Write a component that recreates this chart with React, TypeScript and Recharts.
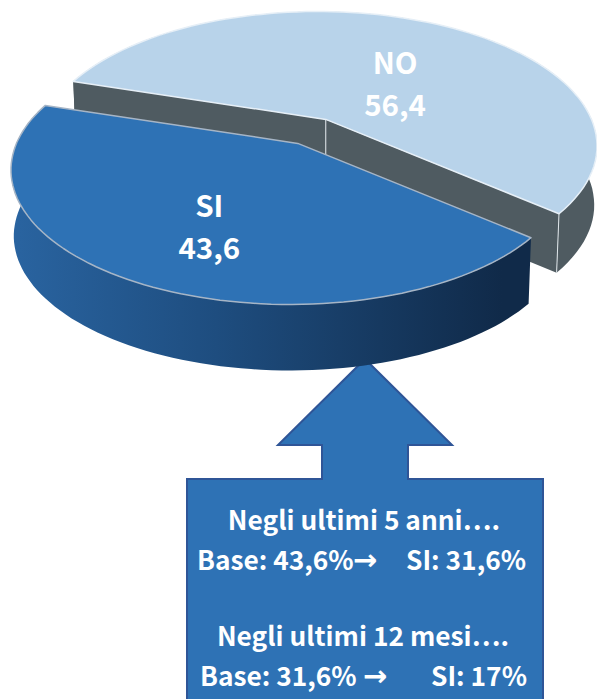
import React from 'react';
import { PieChart, Pie } from 'recharts';

const segments = ['NO', 'SI'];
const shares = [56.4, 43.6];
const boxLines = ['Negli ultimi 5 anni….', 'Base: 43,6%', 'SI:  31,6%', 'Negli ultimi 12 mesi….', 'Base: 31,6%', 'SI: 17%'];

const data = segments.map((name, i) => ({ name, value: shares[i] }));

const FONT = '"Noto Sans CJK SC", "Noto Sans", sans-serif';
const BLUE = '#2e72b5';

// flat disc seen in perspective: the pie centre sits above the middle of the ellipse
const TILT = 0.482;
const SHIFT = 0.2;
const SHIFT_DIR = (82 * Math.PI) / 180;
const NARROW = 0.99;

const project = (cx: number, cy: number, radius: number, angle: number, r = 1) => {
  const t = (angle * Math.PI) / 180 - SHIFT_DIR;
  const a = r * Math.cos(t);
  const b = r * Math.sin(t);
  const den = 1 + SHIFT * a;
  const u = (a + SHIFT) / den;
  const v = (b * Math.sqrt(1 - SHIFT * SHIFT)) / den;
  const c = Math.cos(SHIFT_DIR);
  const s = Math.sin(SHIFT_DIR);
  return [cx + radius * (u * c - v * s), cy - radius * TILT * (u * s + v * c)];
};

const toPath = (pts: number[][]) => 'M' + pts.map((p) => `${p[0].toFixed(1)},${p[1].toFixed(1)}`).join('L') + 'Z';

const PieSlice = (props: any) => {
  const { cx, cy, outerRadius, startAngle, endAngle, name } = props;
  const isNo = name === 'NO';
  const dx = isNo ? 0 : -28;
  const dy = isNo ? 0 : 24;
  const depth = isNo ? 59 : 66;
  const lower = (p: number[]) => [cx + (p[0] - cx) * NARROW, p[1] + depth];
  const arc: number[][] = [];
  const steps = 90;
  for (let i = 0; i <= steps; i++) {
    arc.push(project(cx, cy, outerRadius, startAngle + ((endAngle - startAngle) * i) / steps));
  }
  const apex = project(cx, cy, outerRadius, 0, 0);
  const first = arc[0];
  const last = arc[arc.length - 1];
  const wall = [...arc, ...arc.map(lower).reverse()];
  const face = (p: number[]) => [apex, p, lower(p), lower(apex)];
  return (
    <g transform={`translate(${dx},${dy})`}>
      <path d={toPath(wall)} fill={isNo ? '#4f5b61' : 'url(#siWall)'} />
      {isNo && <path d={toPath(face(first))} fill="#4f5b61" />}
      {isNo && <path d={toPath(face(last))} fill="#4f5b61" />}
      {isNo && <line x1={apex[0]} y1={apex[1]} x2={apex[0]} y2={apex[1] + depth} stroke="#dfe6ea" strokeWidth={1} />}
      {isNo && <line x1={last[0]} y1={last[1]} x2={lower(last)[0]} y2={lower(last)[1]} stroke="#dfe6ea" strokeWidth={1} />}
      <path
        d={toPath([apex, ...arc])}
        fill={isNo ? '#b8d3ea' : BLUE}
        stroke={isNo ? '#e6eff7' : '#a6b5c6'}
        strokeWidth={1.5}
        strokeLinejoin="round"
      />
    </g>
  );
};

const SliceLabel = (props: any) => {
  const { cx, cy, outerRadius, midAngle, name, value } = props;
  const isNo = name === 'NO';
  const p = project(cx, cy, outerRadius, midAngle, isNo ? 0.5 : 0.62);
  const x = p[0] + (isNo ? 9 : -24);
  const y = p[1] + (isNo ? 17 : 30);
  return (
    <text x={x} textAnchor="middle" fontFamily={FONT} fontWeight={700} fontSize={29.5} fill="#fff">
      <tspan x={x} y={y - 11}>{name}</tspan>
      <tspan x={x} y={y + 31}>{String(value).replace('.', ',')}</tspan>
    </text>
  );
};

const textStyle = { fontFamily: FONT, fontWeight: 700, fontSize: 26.3, fill: '#fff' };
const arrowStyle = { fontFamily: '"DejaVu Sans", sans-serif', fontWeight: 700, fontSize: 29, fill: '#fff' };

export default function App() {
  return (
    <div style={{ position: 'absolute', left: 0, top: 0, width: 597, height: 699, background: '#fff', overflow: 'hidden' }}>
      <PieChart width={597} height={699} margin={{ top: 0, right: 0, bottom: 0, left: 0 }}>
        <defs>
          <linearGradient id="siWall" gradientUnits="userSpaceOnUse" x1={11} y1={0} x2={530} y2={0}>
            <stop offset="0%" stopColor="#2b67a5" />
            <stop offset="45%" stopColor="#1e4d7f" />
            <stop offset="100%" stopColor="#102a49" />
          </linearGradient>
        </defs>
        <Pie
          data={data}
          dataKey="value"
          nameKey="name"
          cx={318}
          cy={146}
          outerRadius={279}
          startAngle={162.5}
          endAngle={-197.5}
          paddingAngle={0}
          stroke="none"
          shape={PieSlice}
          label={SliceLabel}
          labelLine={false}
          isAnimationActive={false}
        />
        <path
          d="M365,359 L452,445 L408,445 L408,479 L543,479 L543,705 L187,705 L187,479 L322,479 L322,445 L278,445 Z"
          fill={BLUE}
          stroke="#2f5597"
          strokeWidth={2}
        />
        <text x={364} y={530} textAnchor="middle" style={textStyle}>{boxLines[0]}</text>
        <text x={197} y={570} style={textStyle}>{boxLines[1]}</text>
        <text x={353} y={570} style={arrowStyle}>→</text>
        <text x={406} y={570} style={textStyle}>{boxLines[2]}</text>
        <text x={363} y={646} textAnchor="middle" style={textStyle}>{boxLines[3]}</text>
        <text x={200} y={686} style={textStyle}>{boxLines[4]}</text>
        <text x={363} y={686} style={arrowStyle}>→</text>
        <text x={431} y={686} style={textStyle}>{boxLines[5]}</text>
      </PieChart>
    </div>
  );
}
